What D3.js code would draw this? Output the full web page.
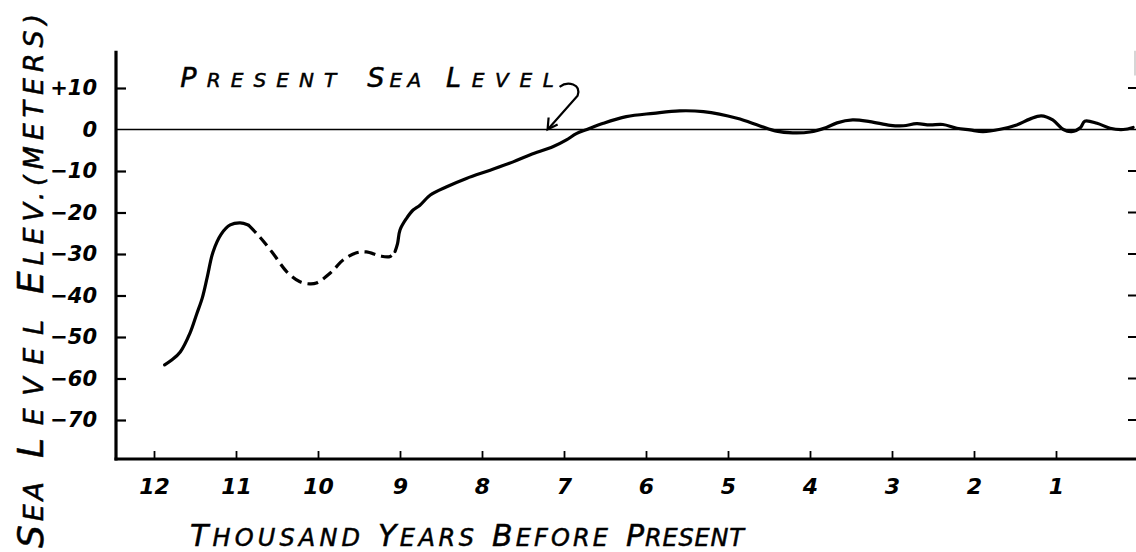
<!DOCTYPE html>
<html>
<head>
<meta charset="utf-8">
<script src="https://cdn.jsdelivr.net/npm/d3@7"></script>
<style>
  html, body { margin: 0; padding: 0; background: #fff; }
  svg { display: block; }
  text { fill: #000; }
</style>
</head>
<body>
<svg id="chart" width="1136" height="552"></svg>
<script>
// ---- data (thousand years BP, metres relative to present sea level) ----
const xTicks = [12, 11, 10, 9, 8, 7, 6, 5, 4, 3, 2, 1];
const xTickLabels = ["12", "11", "10", "9", "8", "7", "6", "5", "4", "3", "2", "1"];
const yTicks = [10, 0, -10, -20, -30, -40, -50, -60, -70];
const yTickLabels = ["+10", "0", "\u221210", "\u221220", "\u221230", "\u221240", "\u221250", "\u221260", "\u221270"];

const solidEarly = [
  [11.87, -56.7], [11.78, -55.5], [11.68, -53.6], [11.56, -49], [11.48, -44.5],
  [11.41, -40.5], [11.35, -35.5], [11.28, -29.5], [11.18, -25.2], [11.07, -23],
  [10.95, -22.5], [10.85, -23]
];
const dashedPart = [
  [10.85, -23], [10.71, -25.9], [10.55, -29.8], [10.38, -34.3], [10.22, -36.7],
  [10.10, -37.2], [10.02, -37], [9.85, -34.6], [9.69, -31.4], [9.53, -29.7],
  [9.41, -29.5], [9.24, -30.5], [9.12, -30.6], [9.06, -29.4]
];
const solidLate = [
  [9.06, -29.4], [9.03, -27.5], [9.0, -24.2], [8.92, -21.4], [8.84, -19.4],
  [8.76, -18.3], [8.63, -15.8], [8.43, -13.8], [8.19, -11.8], [7.90, -9.8],
  [7.62, -7.8], [7.41, -6.1], [7.13, -4.1], [6.97, -2.5], [6.85, -1.0],
  [6.72, 0], [6.52, 1.5], [6.24, 3.1], [5.91, 3.9], [5.59, 4.5], [5.30, 4.3],
  [4.89, 2.7], [4.61, 0.85], [4.41, -0.4], [4.21, -0.8], [4.0, -0.6],
  [3.80, 0.5], [3.67, 1.6], [3.48, 2.3], [3.27, 1.9], [3.02, 1.0], [2.86, 0.9],
  [2.70, 1.4], [2.54, 1.1], [2.38, 1.2], [2.21, 0.3], [2.05, -0.1], [1.89, -0.5],
  [1.68, 0.05], [1.48, 1.1], [1.32, 2.5], [1.18, 3.3], [1.04, 2.3], [0.91, 0.0],
  [0.81, -0.5], [0.70, 0.5], [0.65, 2.0], [0.50, 1.5], [0.34, 0.3], [0.18, 0.0],
  [0.06, 0.5]
];

// ---- layout ----
const svg = d3.select("#chart");
const x = d3.scaleLinear().domain([12, 0]).range([154, 1138]);
const y = d3.scaleLinear().domain([0, -70]).range([129.5, 420]);
const xLeft = 116, xRight = 1135;
const yBottom = y(-79.4), yTop = y(19);

const FONT = "'DejaVu Sans', 'Liberation Sans', sans-serif";

// zero (present sea level) line
svg.append("line")
  .attr("x1", xLeft).attr("x2", 1136)
  .attr("y1", y(0)).attr("y2", y(0))
  .attr("stroke", "#000").attr("stroke-width", 1.6);

// left axis
const yAxis = d3.axisLeft(y)
  .tickValues(yTicks)
  .tickFormat((d, i) => yTickLabels[i])
  .tickSize(-10).tickPadding(19);
const gy = svg.append("g").attr("transform", `translate(${xLeft},0)`).call(yAxis);
gy.select(".domain").remove();
gy.selectAll(".tick line").attr("stroke", "#000").attr("stroke-width", 2.2)
  .filter(d => d === 0).remove();
gy.selectAll(".tick text")
  .attr("font-family", FONT).attr("font-size", 21).attr("font-weight", "bold")
  .attr("font-style", "oblique").attr("fill", "#000");
svg.append("line")
  .attr("x1", xLeft).attr("x2", xLeft)
  .attr("y1", yTop).attr("y2", yBottom + 1.5)
  .attr("stroke", "#000").attr("stroke-width", 3.2);

// bottom axis
const xAxis = d3.axisBottom(x)
  .tickValues(xTicks)
  .tickFormat((d, i) => xTickLabels[i])
  .tickSize(-8).tickPadding(19);
const gx = svg.append("g").attr("transform", `translate(0,${yBottom})`).call(xAxis);
gx.select(".domain").remove();
gx.selectAll(".tick line").attr("stroke", "#000").attr("stroke-width", 1.8);
gx.selectAll(".tick text")
  .attr("font-family", FONT).attr("font-size", 22).attr("font-weight", "bold")
  .attr("font-style", "oblique").attr("fill", "#000");
svg.append("line")
  .attr("x1", xLeft - 1.5).attr("x2", 1136)
  .attr("y1", yBottom).attr("y2", yBottom)
  .attr("stroke", "#000").attr("stroke-width", 3.2);

// right-edge ticks
const rightTicks = yTicks.filter(d => d !== 0);
svg.append("g").selectAll("line").data(rightTicks).join("line")
  .attr("x1", xRight - 7).attr("x2", 1136)
  .attr("y1", d => y(d)).attr("y2", d => y(d))
  .attr("stroke", "#000").attr("stroke-width", 2);
svg.append("line")
  .attr("x1", xRight).attr("x2", xRight)
  .attr("y1", yTop).attr("y2", y(13))
  .attr("stroke", "#bbb").attr("stroke-width", 1.2);

// curve
const line = d3.line()
  .x(d => x(d[0])).y(d => y(d[1]))
  .curve(d3.curveCatmullRom.alpha(0.5));
svg.append("path").attr("d", line(solidEarly))
  .attr("fill", "none").attr("stroke", "#000").attr("stroke-width", 3.2)
  .attr("stroke-linecap", "round").attr("stroke-linejoin", "round");
svg.append("path").attr("d", line(dashedPart))
  .attr("fill", "none").attr("stroke", "#000").attr("stroke-width", 3.2)
  .attr("stroke-dasharray", "11,6");
svg.append("path").attr("d", line(solidLate))
  .attr("fill", "none").attr("stroke", "#000").attr("stroke-width", 3.2)
  .attr("stroke-linecap", "round").attr("stroke-linejoin", "round");

// ---- lettering helper: word with big initial and small rest ----
function word(g, initial, rest, bigSize, smallSize, length) {
  const t = g.append("text")
    .attr("font-family", FONT).attr("font-style", "oblique")
    .attr("stroke", "#000").attr("stroke-width", 0.5)
    .attr("textLength", length).attr("lengthAdjust", "spacing");
  t.append("tspan").attr("font-size", bigSize).text(initial);
  t.append("tspan").attr("font-size", smallSize).text(rest);
  return t;
}

// annotation "PRESENT SEA LEVEL"
const ann = svg.append("g");
const annBase = y(10.3);
word(ann, "P", "RESENT", 27, 20, 156).attr("x", x(11.68)).attr("y", annBase);
word(ann, "S", "EA", 27, 20, 54).attr("x", x(9.4)).attr("y", annBase);
word(ann, "L", "EVEL", 27, 20, 108).attr("x", x(8.44)).attr("y", annBase);
const tipX = x(7.2), tipY = y(0);
ann.append("path")
  .attr("d", `M${tipX + 12},${annBase} C${tipX + 20},${annBase - 6} ${tipX + 34},${annBase - 3} ${tipX + 30},${annBase + 9} L${tipX + 1},${tipY - 1}`)
  .attr("fill", "none").attr("stroke", "#000").attr("stroke-width", 2.2);
ann.append("path")
  .attr("d", `M${tipX + 1},${tipY - 12} L${tipX},${tipY} L${tipX + 10},${tipY - 5}`)
  .attr("fill", "none").attr("stroke", "#000").attr("stroke-width", 2.2);

// x-axis title
const xt = svg.append("g");
const xtBase = 546;
word(xt, "T", "HOUSAND", 30, 24, 170).attr("x", 190).attr("y", xtBase);
word(xt, "Y", "EARS", 30, 24, 96).attr("x", 378).attr("y", xtBase);
word(xt, "B", "EFORE", 30, 24, 116).attr("x", 492).attr("y", xtBase);
word(xt, "P", "RESENT", 30, 24, 118).attr("x", 626).attr("y", xtBase);

// y-axis title (rotated)
const yt = svg.append("g").attr("transform", "translate(43,0) rotate(-90)");
word(yt, "S", "EA", 36, 27, 66).attr("x", -548).attr("y", 0);
word(yt, "L", "EVEL", 36, 27, 138).attr("x", -458).attr("y", 0);
word(yt, "E", "LEV.(METERS)", 36, 27, 280).attr("x", -294).attr("y", 0);
</script>
</body>
</html>
